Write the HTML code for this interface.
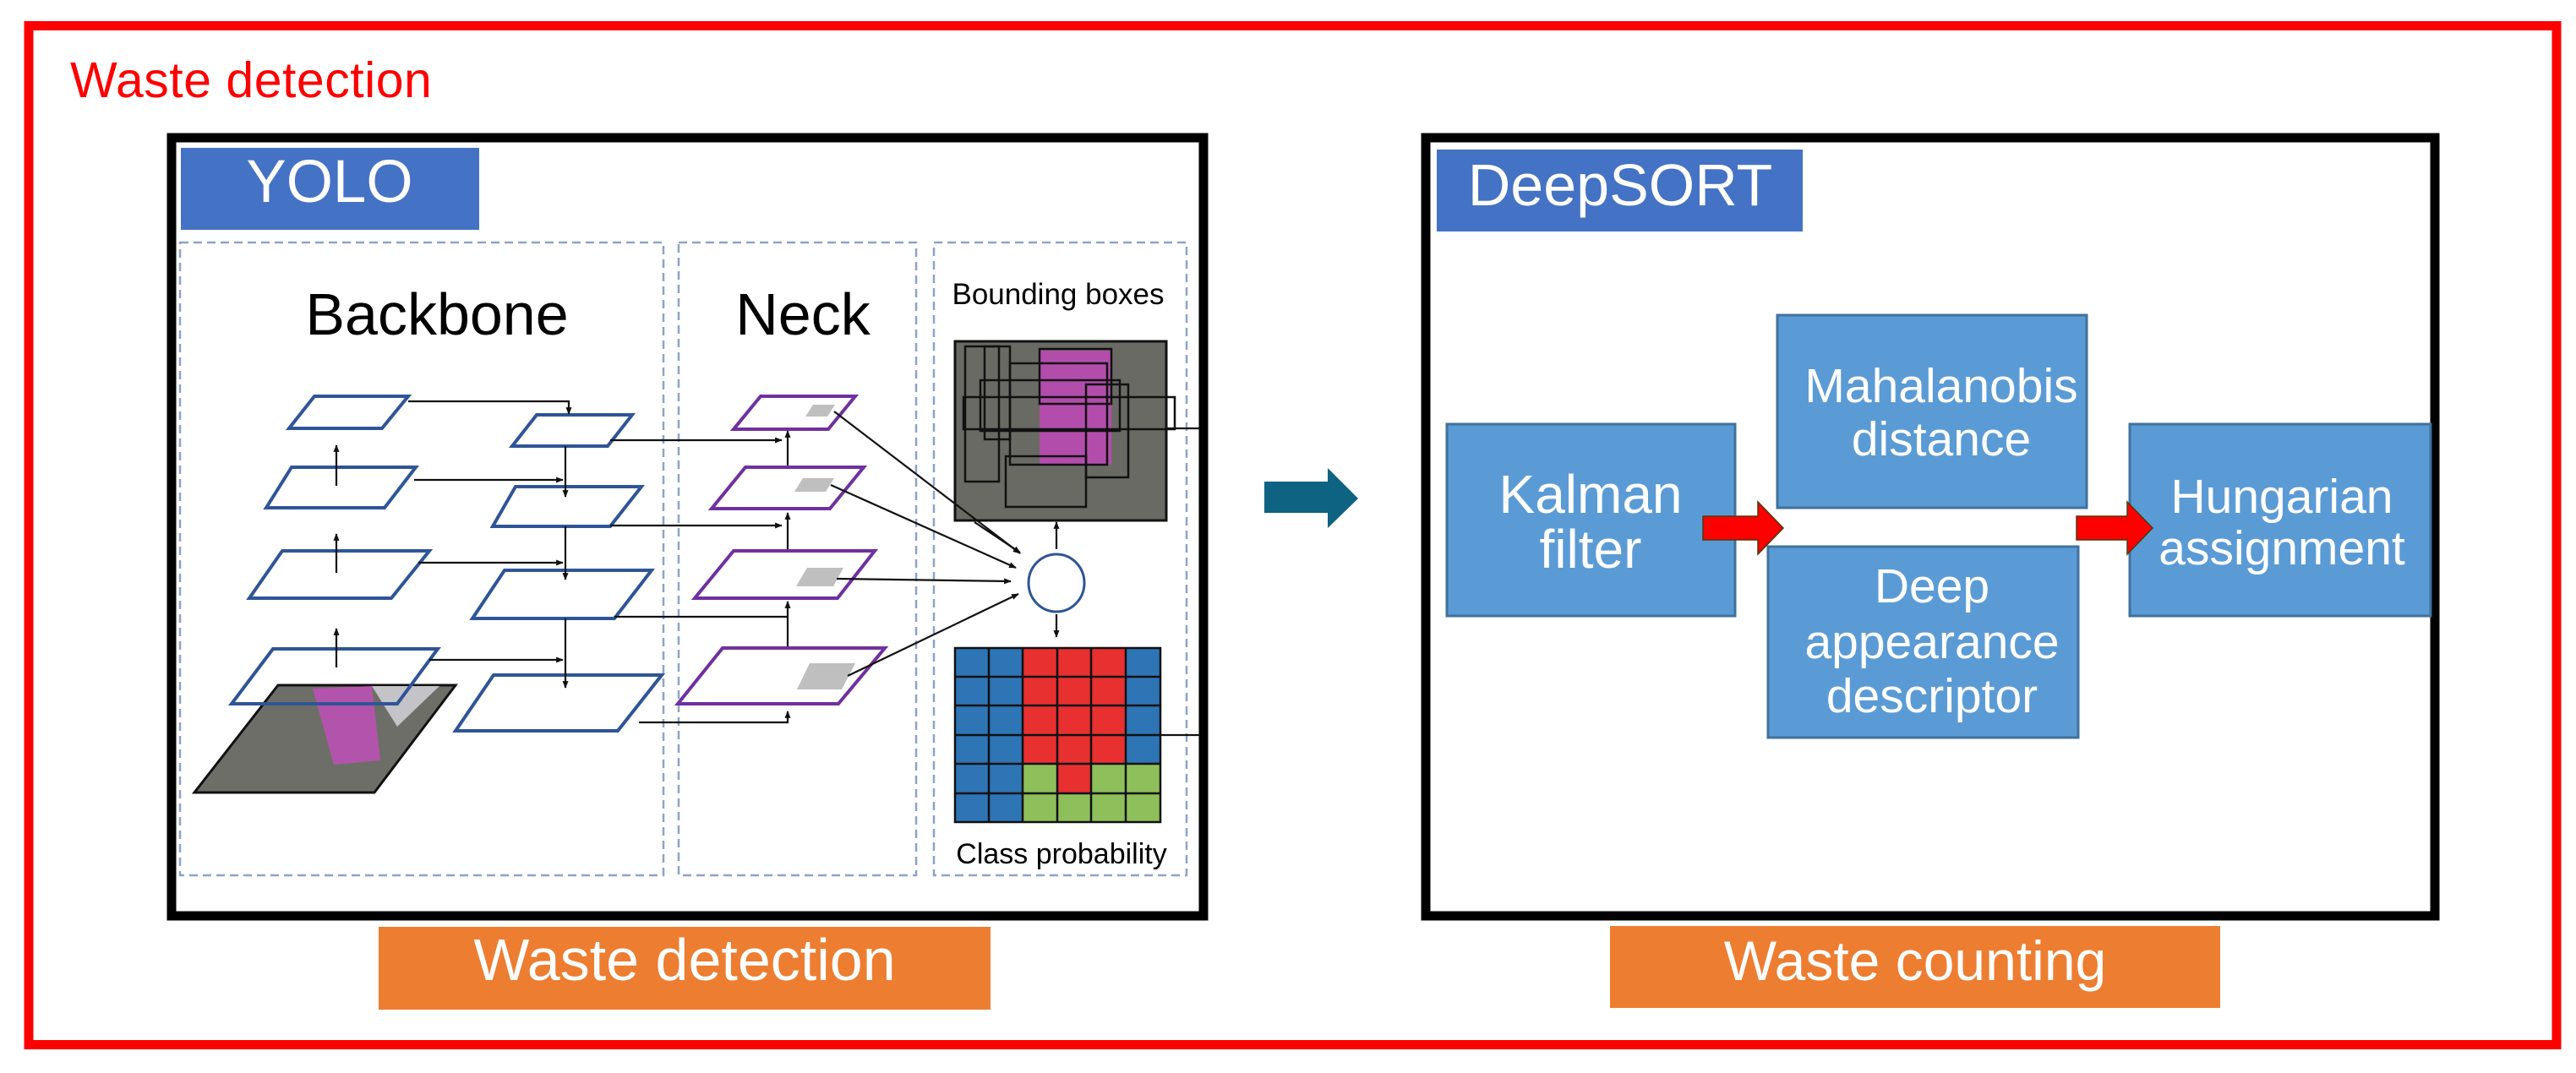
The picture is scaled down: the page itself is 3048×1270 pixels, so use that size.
<!DOCTYPE html>
<html><head><meta charset="utf-8"><style>
html,body{margin:0;padding:0;background:#fff;}
svg{display:block;font-family:"Liberation Sans",Arial,sans-serif;}
</style></head><body>
<svg width="3048" height="1270" viewBox="0 0 3048 1270" xmlns="http://www.w3.org/2000/svg">
<defs>
<marker id="ah" viewBox="0 0 10 10" refX="9" refY="5" markerWidth="4" markerHeight="4" orient="auto"><path d="M0,1 L10,5 L0,9 z" fill="#111"/></marker>
</defs>
<rect x="0" y="0" width="3048" height="1270" fill="#fff"/>
<!-- outer red frame -->
<rect x="34" y="30.5" width="2991" height="1206" fill="none" stroke="#ff0000" stroke-width="11"/>
<text x="83" y="115" font-size="59" fill="#ff0000" letter-spacing="0.5">Waste detection</text>

<!-- YOLO black box -->
<rect x="203" y="163" width="1221" height="921" fill="#fff" stroke="#000" stroke-width="11"/>
<rect x="214" y="175" width="353" height="97" fill="#4472c4"/>
<text x="390" y="239" font-size="71" fill="#fff" text-anchor="middle">YOLO</text>

<!-- dashed panels -->
<g fill="none" stroke="#8ea3c8" stroke-width="2.5" stroke-dasharray="10,6">
<rect x="213" y="287" width="572" height="749"/>
<rect x="803" y="287" width="281" height="749"/>
<rect x="1105" y="287" width="299" height="749"/>
</g>
<text x="517" y="396" font-size="70" fill="#000" text-anchor="middle">Backbone</text>
<text x="950" y="396" font-size="70" fill="#000" text-anchor="middle">Neck</text>
<text x="1252" y="360" font-size="35" fill="#000" text-anchor="middle">Bounding boxes</text>
<text x="1256" y="1022" font-size="34" fill="#000" text-anchor="middle">Class probability</text>

<!-- input image parallelogram -->
<polygon points="329,811 539,811 443,938 230,938" fill="#6e6e68" stroke="#111" stroke-width="3"/>
<polygon points="370,815 440,812 450,900 395,905" fill="#c050b8" opacity="0.85"/>
<polygon points="440,812 520,812 470,860" fill="#d8d8e0" opacity="0.8"/>

<!-- backbone parallelograms -->
<g fill="none" stroke="#2f5597" stroke-width="4">
<polygon points="372,469 483,469 452,507 342,507"/>
<polygon points="345,553 492,553 455,601 315,601"/>
<polygon points="334,652 508,652 463,708 295,708"/>
<polygon points="323,768 518,768 470,833 274,833"/>
<polygon points="635,491 748,491 719,528 606,528" fill="#fff"/>
<polygon points="610,576 759,576 722,623 583,623" fill="#fff"/>
<polygon points="597,675 771,675 727,732 559,732" fill="#fff"/>
<polygon points="584,799 783,799 731,865 539,865" fill="#fff"/>
</g>

<!-- backbone connectors -->
<g stroke="#111" stroke-width="2.2" fill="none">
<line x1="398" y1="575" x2="398" y2="527" marker-end="url(#ah)"/>
<line x1="398" y1="678" x2="398" y2="632" marker-end="url(#ah)"/>
<line x1="398" y1="790" x2="398" y2="744" marker-end="url(#ah)"/>
<polyline points="483,475 673,475 673,490" marker-end="url(#ah)"/>
<line x1="490" y1="568" x2="666" y2="568" marker-end="url(#ah)"/>
<line x1="495" y1="666" x2="666" y2="666" marker-end="url(#ah)"/>
<line x1="508" y1="781" x2="666" y2="781" marker-end="url(#ah)"/>
<line x1="669" y1="528" x2="669" y2="588" marker-end="url(#ah)"/>
<line x1="669" y1="623" x2="669" y2="686" marker-end="url(#ah)"/>
<line x1="669" y1="732" x2="669" y2="814" marker-end="url(#ah)"/>
<line x1="722" y1="521" x2="925" y2="521" marker-end="url(#ah)"/>
<line x1="722" y1="622" x2="925" y2="622" marker-end="url(#ah)"/>
<line x1="727" y1="730" x2="932" y2="730"/>
<polyline points="756,855 932,855 932,842" marker-end="url(#ah)"/>
<line x1="932" y1="553" x2="932" y2="510" marker-end="url(#ah)"/>
<line x1="932" y1="652" x2="932" y2="607" marker-end="url(#ah)"/>
<line x1="932" y1="790" x2="932" y2="712" marker-end="url(#ah)"/>
</g>

<!-- neck parallelograms -->
<g fill="#fff" stroke="#7030a0" stroke-width="4">
<polygon points="900,469 1012,469 980,508 868,508"/>
<polygon points="882,553 1022,553 982,602 842,602"/>
<polygon points="868,652 1035,652 991,708 822,708"/>
<polygon points="855,767 1047,767 992,833 802,833"/>
</g>
<g fill="#bfbfbf">
<polygon points="962,479 988,479 979,493 953,493"/>
<polygon points="950,566 987,566 977,582 940,582"/>
<polygon points="955,672 998,672 986,694 942,694"/>
<polygon points="958,785 1012,785 996,816 943,816"/>
</g>

<!-- bbox image -->
<rect x="1130" y="404" width="250" height="212" fill="#6a6a64" stroke="#111" stroke-width="3"/>
<rect x="1230" y="415" width="85" height="135" fill="#c048b8" opacity="0.85"/>
<g fill="none" stroke="#111" stroke-width="2.5">
<rect x="1142" y="410" width="40" height="160"/>
<rect x="1165" y="410" width="30" height="110"/>
<rect x="1195" y="430" width="115" height="120"/>
<rect x="1160" y="450" width="165" height="60"/>
<rect x="1190" y="540" width="95" height="60"/>
<rect x="1285" y="455" width="50" height="110"/>
<rect x="1230" y="413" width="85" height="65"/>
<rect x="1140" y="470" width="250" height="38"/>
</g>
<!-- grid -->
<g>
<rect x="1130" y="767" width="243" height="206" fill="#2e75b6"/>
<rect x="1210" y="767" width="122" height="137" fill="#e83030"/>
<rect x="1210" y="904" width="163" height="69" fill="#8fbf5a"/>
<rect x="1251" y="904" width="40" height="35" fill="#e83030"/>
<g stroke="#111" stroke-width="2.5" fill="none">
<rect x="1130" y="767" width="243" height="206"/>
<line x1="1170" y1="767" x2="1170" y2="973"/><line x1="1210" y1="767" x2="1210" y2="973"/>
<line x1="1251" y1="767" x2="1251" y2="973"/><line x1="1291" y1="767" x2="1291" y2="973"/>
<line x1="1332" y1="767" x2="1332" y2="973"/>
<line x1="1130" y1="801" x2="1373" y2="801"/><line x1="1130" y1="835" x2="1373" y2="835"/>
<line x1="1130" y1="870" x2="1373" y2="870"/><line x1="1130" y1="904" x2="1373" y2="904"/>
<line x1="1130" y1="939" x2="1373" y2="939"/>
</g>
</g>
<!-- circle & fan-in -->
<ellipse cx="1250" cy="690" rx="33" ry="34" fill="#fff" stroke="#2f5597" stroke-width="3"/>
<g stroke="#111" stroke-width="2.2" fill="none">
<line x1="987" y1="487" x2="1207" y2="655" marker-end="url(#ah)"/>
<line x1="983" y1="574" x2="1202" y2="672" marker-end="url(#ah)"/>
<line x1="990" y1="685" x2="1196" y2="688" marker-end="url(#ah)"/>
<line x1="1003" y1="800" x2="1205" y2="703" marker-end="url(#ah)"/>
<line x1="1153" y1="618" x2="1207" y2="654" marker-end="url(#ah)"/>
<line x1="1250" y1="650" x2="1250" y2="618" marker-end="url(#ah)"/>
<line x1="1250" y1="727" x2="1250" y2="754" marker-end="url(#ah)"/>
<line x1="1380" y1="507" x2="1420" y2="507"/>
<line x1="1373" y1="870" x2="1420" y2="870"/>
</g>

<!-- orange label left -->
<rect x="448" y="1097" width="724" height="98" fill="#ed7d31"/>
<text x="810" y="1160" font-size="70" fill="#fff" text-anchor="middle">Waste detection</text>

<!-- teal arrow -->
<polygon points="1496,570 1571,570 1571,554 1607,590 1571,625 1571,607 1496,607" fill="#0e6282"/>

<!-- DeepSORT box -->
<rect x="1687" y="163" width="1194" height="921" fill="#fff" stroke="#000" stroke-width="11"/>
<rect x="1700" y="177" width="433" height="97" fill="#4472c4"/>
<text x="1917" y="243" font-size="70" fill="#fff" text-anchor="middle">DeepSORT</text>

<g fill="#5b9bd5" stroke="#41719c" stroke-width="3">
<rect x="1712" y="502" width="341" height="227"/>
<rect x="2103" y="373" width="366" height="228"/>
<rect x="2092" y="647" width="367" height="226"/>
<rect x="2520" y="502" width="356" height="227"/>
</g>
<g fill="#fff" font-size="57" text-anchor="middle">
<text x="1882" y="607" font-size="64">Kalman</text>
<text x="1882" y="672" font-size="64">filter</text>
<text x="2297" y="476">Mahalanobis</text>
<text x="2297" y="539">distance</text>
<text x="2286" y="713">Deep</text>
<text x="2286" y="779">appearance</text>
<text x="2286" y="843">descriptor</text>
<text x="2700" y="607">Hungarian</text>
<text x="2700" y="668">assignment</text>
</g>
<!-- red arrows -->
<g fill="#ff0000" stroke="#4a3a10" stroke-width="1.5">
<polygon points="2015,611 2080,611 2080,594 2110,625 2080,656 2080,639 2015,639"/>
<polygon points="2457,611 2517,611 2517,594 2547,625 2517,656 2517,639 2457,639"/>
</g>

<!-- orange label right -->
<rect x="1905" y="1096" width="722" height="97" fill="#ed7d31"/>
<text x="2266" y="1160" font-size="66" fill="#fff" text-anchor="middle">Waste counting</text>
</svg>
</body></html>
